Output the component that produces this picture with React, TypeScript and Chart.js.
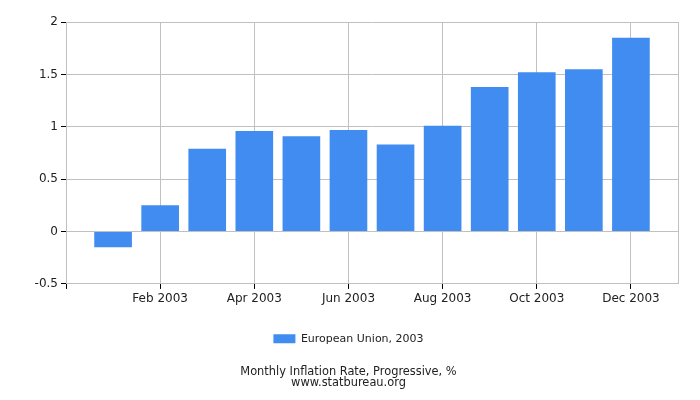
import React, { useEffect, useRef } from "react";
import { Chart, registerables } from "chart.js";

Chart.register(...registerables);

const months = [
  "Jan 2003", "Feb 2003", "Mar 2003", "Apr 2003", "May 2003", "Jun 2003",
  "Jul 2003", "Aug 2003", "Sep 2003", "Oct 2003", "Nov 2003", "Dec 2003",
];
const values = [-0.15, 0.25, 0.79, 0.96, 0.91, 0.97, 0.83, 1.01, 1.38, 1.52, 1.55, 1.85];
const xTickPositions = [0, 2, 4, 6, 8, 10, 12, 13];
const yTicks = [-0.5, 0, 0.5, 1, 1.5, 2];
const seriesLabel = "European Union, 2003";
const titleLines = ["Monthly Inflation Rate, Progressive, %", "www.statbureau.org"];

const FONT = "'DejaVu Sans', sans-serif";
const TEXT = "#222";
const GRID = "#c0c0c0";
const BAR = "#418cf0";

export default function App() {
  const ref = useRef<HTMLCanvasElement | null>(null);

  useEffect(() => {
    if (!ref.current) return;
    const chart = new Chart(ref.current, {
      type: "bar",
      data: {
        datasets: [
          {
            label: seriesLabel,
            data: values.map((v, i) => ({ x: i + 1, y: v })),
            backgroundColor: BAR,
            borderWidth: 0,
            barPercentage: 1,
            categoryPercentage: 0.8,
          },
        ],
      },
      options: {
        animation: false,
        responsive: false,
        maintainAspectRatio: false,
        layout: { padding: { top: 22, right: 3, left: 0, bottom: 12 } },
        scales: {
          x: {
            type: "linear",
            min: 0,
            max: 13,
            offset: false,
            afterBuildTicks: (scale: any) => {
              scale.ticks = xTickPositions.map((v) => ({ value: v }));
            },
            grid: {
              offset: false,
              color: GRID,
              tickColor: (ctx: any) => (ctx.tick && ctx.tick.value === 13 ? "rgba(0,0,0,0)" : "#000"),
              tickLength: 5,
            },
            border: { color: GRID },
            ticks: {
              autoSkip: false,
              maxRotation: 0,
              padding: 3,
              color: TEXT,
              font: { family: FONT, size: 12 },
              callback: (v: any) => {
                const n = Number(v);
                return n >= 1 && n <= 12 ? months[n - 1] : "";
              },
            },
          },
          y: {
            min: -0.5,
            max: 2,
            afterBuildTicks: (scale: any) => {
              scale.ticks = yTicks.map((v) => ({ value: v }));
            },
            afterFit: (scale: any) => {
              scale.width = 66;
            },
            grid: { color: GRID, tickColor: "#000", tickLength: 5 },
            border: { color: GRID },
            ticks: {
              padding: 3,
              color: TEXT,
              font: { family: FONT, size: 12 },
              callback: (v: any) => String(v),
            },
          },
          yRight: {
            position: "right",
            min: -0.5,
            max: 2,
            afterFit: (scale: any) => {
              scale.width = 19;
            },
            grid: { display: false },
            border: { display: false },
            ticks: { display: false },
          },
        },
        plugins: {
          legend: {
            position: "bottom",
            labels: {
              boxWidth: 22,
              boxHeight: 9,
              color: TEXT,
              font: { family: FONT, size: 11 },
              padding: 24,
            },
          },
          title: {
            display: true,
            position: "bottom",
            text: titleLines,
            color: TEXT,
            font: { family: FONT, size: 11.4, weight: "normal" as any, lineHeight: 0.95 },
            padding: { top: 12, bottom: 0 },
          },
          tooltip: { enabled: false },
        },
      },
    });
    return () => chart.destroy();
  }, []);

  return (
    <div style={{ position: "absolute", left: 0, top: 0, width: 700, height: 400, background: "#fff" }}>
      <canvas ref={ref} width={700} height={400} style={{ width: 700, height: 400 }} />
    </div>
  );
}
